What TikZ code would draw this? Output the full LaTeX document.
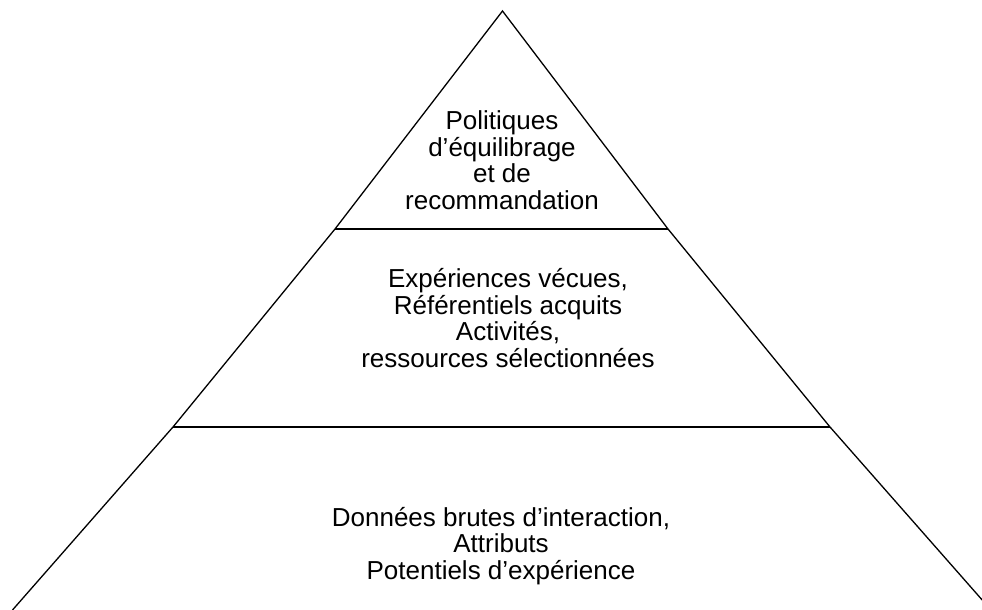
\documentclass[tikz,border=0pt]{standalone}
\usepackage{fontspec}
\setmainfont{Liberation Sans}
\begin{document}
\begin{tikzpicture}[x=1bp,y=-1bp,
  edge/.style={draw=black,line width=1.3bp,line join=miter},
  label/.style={align=center,font=\fontsize{26bp}{26.5bp}\selectfont,inner sep=0pt}]
\useasboundingbox (0,0) rectangle (982,610);
\clip (0,0) rectangle (982,610);
\coordinate (apex) at (502.5,11);
\coordinate (l1) at (335,229);
\coordinate (r1) at (668,229);
\coordinate (l2) at (173,427);
\coordinate (r2) at (830,427);
\coordinate (lb) at (12.5,610);
\coordinate (rb) at (991,610);
\draw[edge] (lb) -- (l2) -- (l1) -- (apex) -- (r1) -- (r2) -- (rb);
\draw[edge] (l1) -- (r1);
\draw[edge] (l2) -- (r2);
\node[label] (top) at (502,160) {Politiques\\d’équilibrage\\et de\\recommandation};
\node[label] (mid) at (508,318) {Expériences vécues,\\Référentiels acquits\\Activités,\\ressources sélectionnées};
\node[label] (bot) at (501,546) {Données brutes d’interaction,\\Attributs\\Potentiels d’expérience};
\end{tikzpicture}
\end{document}
